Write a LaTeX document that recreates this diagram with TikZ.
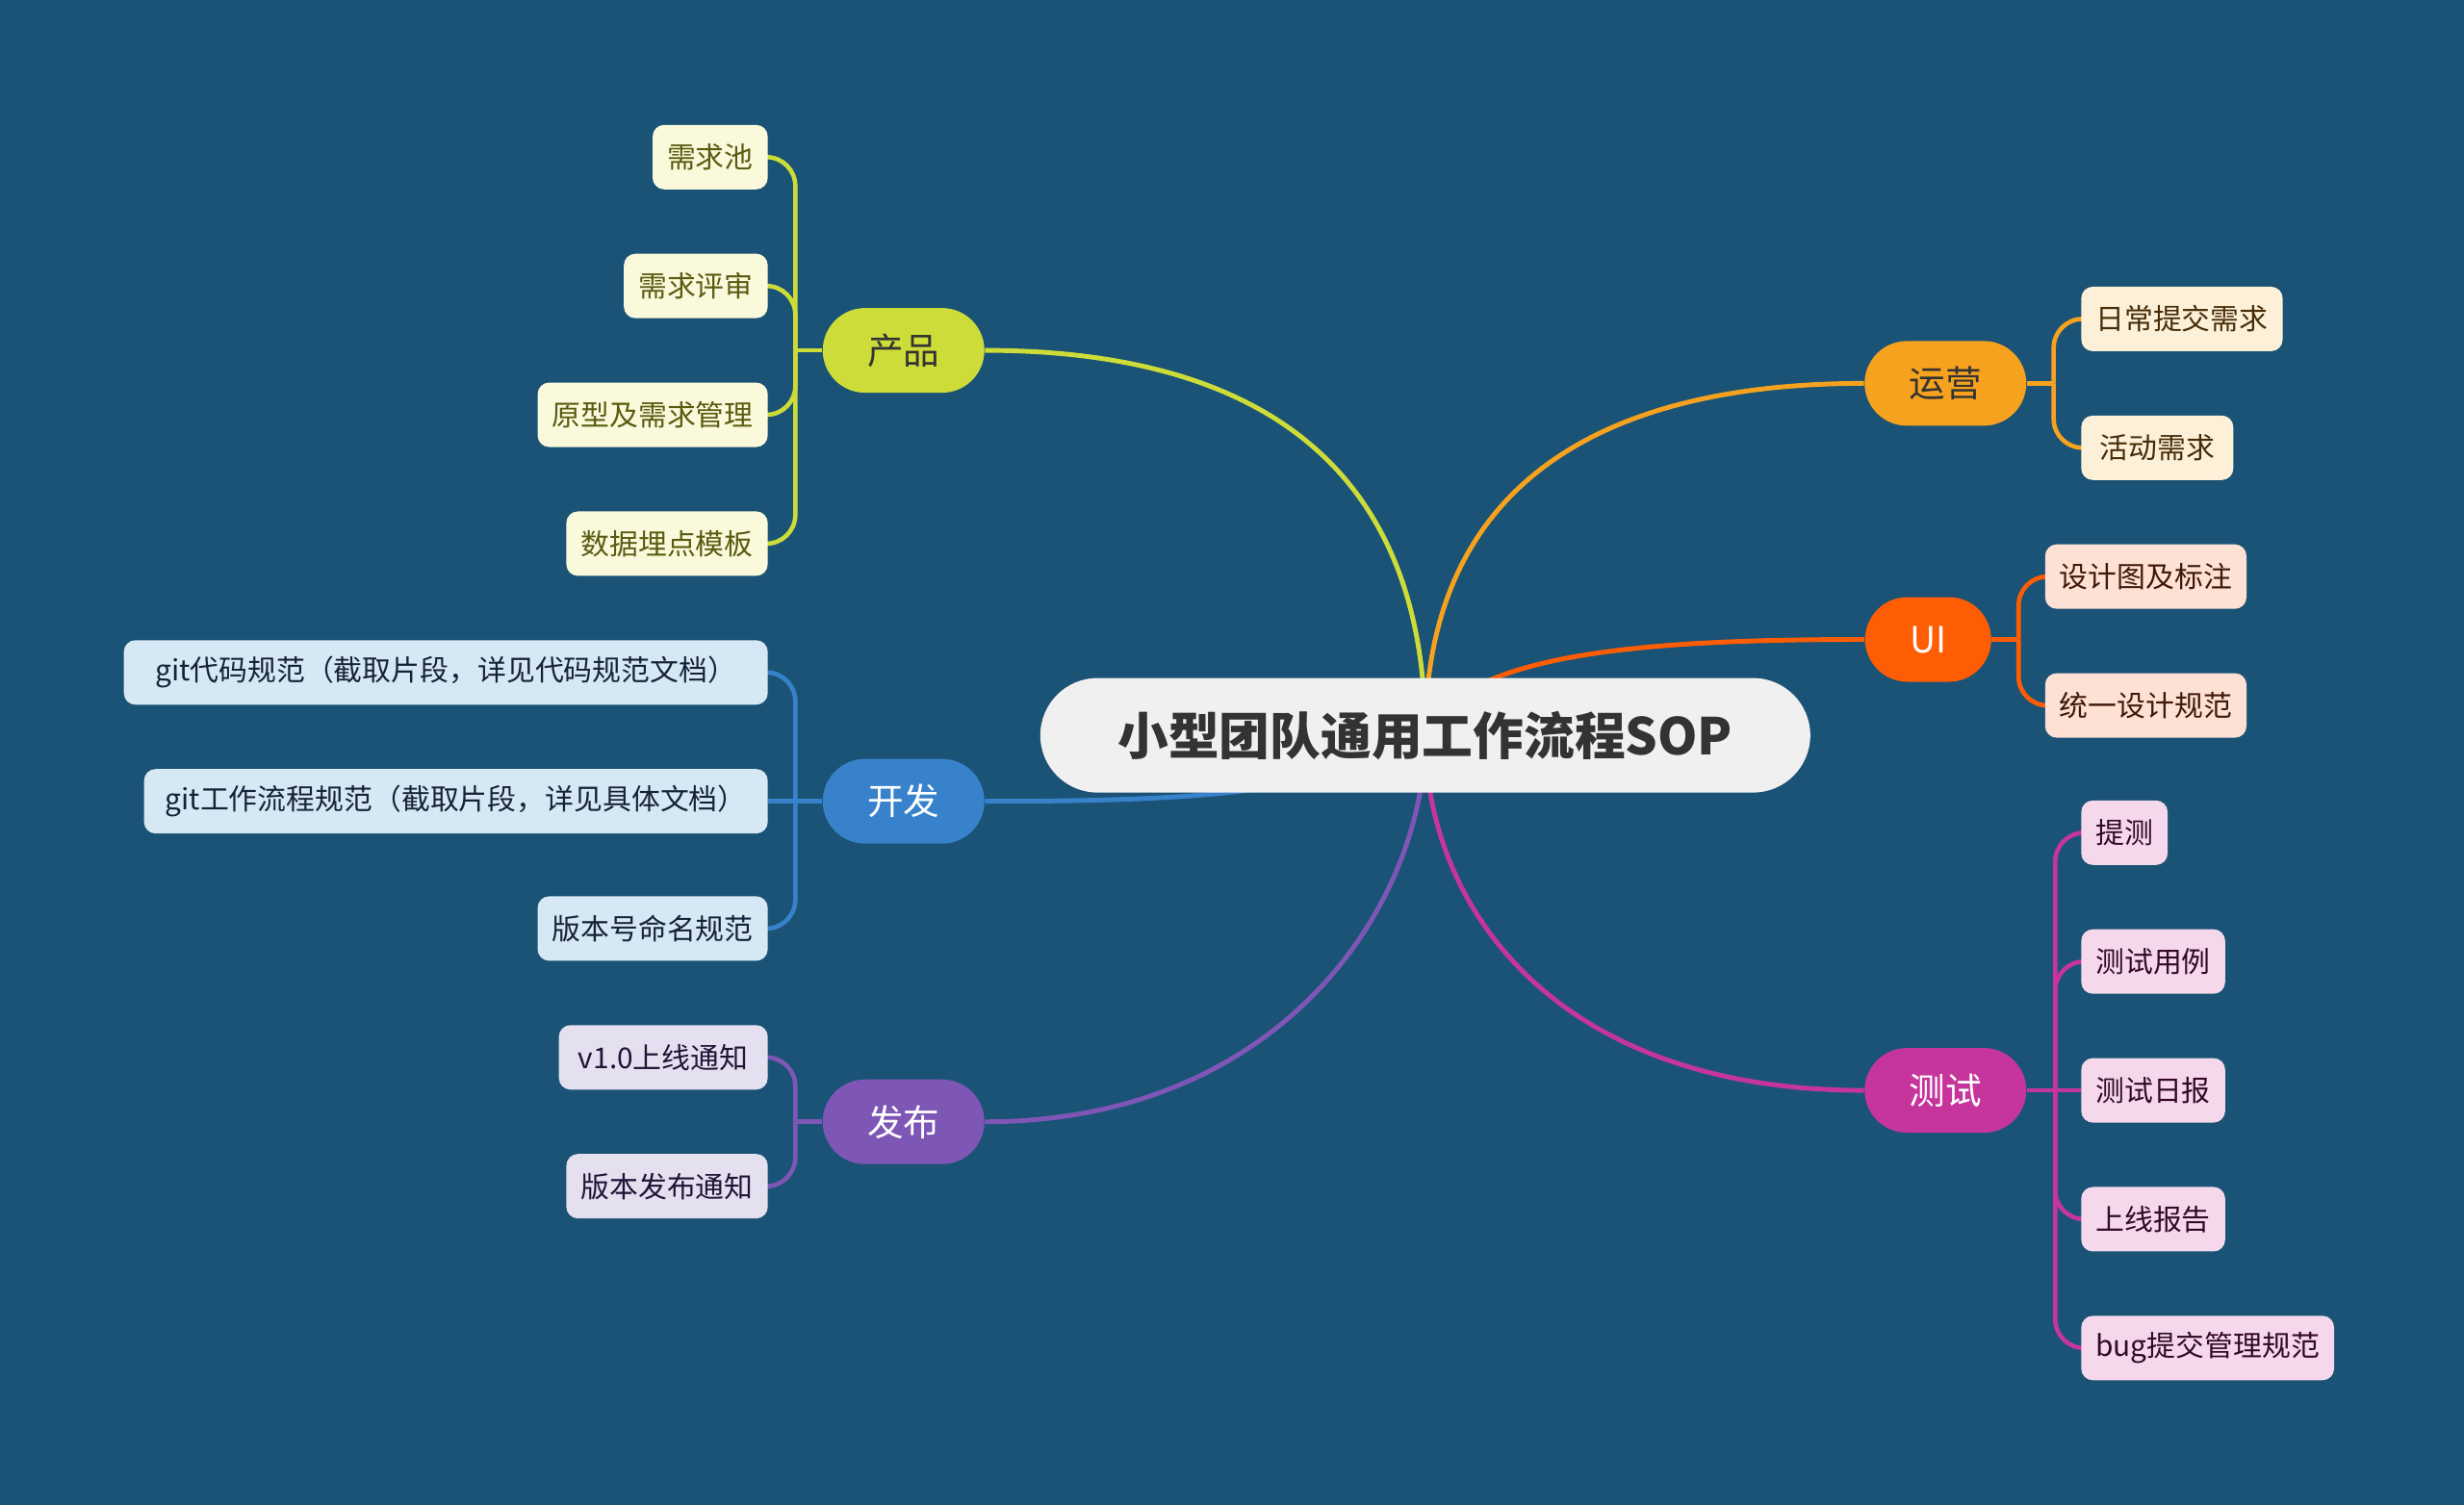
\documentclass[tikz,border=0pt]{standalone}
\usepackage{fontspec}
\setmainfont{Noto Sans CJK SC}
\usepackage{xcolor}
\usepackage{tikz}
\usetikzlibrary{positioning, backgrounds}

\definecolor{bgblue}{RGB}{26,83,117}
\definecolor{rootfill}{RGB}{240,240,240}
\definecolor{roottext}{RGB}{51,51,51}
\definecolor{cPr}{RGB}{205,220,57}
\definecolor{cKf}{RGB}{56,130,204}
\definecolor{cFb}{RGB}{126,87,182}
\definecolor{cYy}{RGB}{246,162,30}
\definecolor{cUi}{RGB}{255,93,3}
\definecolor{cCs}{RGB}{198,53,156}
\definecolor{pFill}{RGB}{250,249,220}
\definecolor{pText}{RGB}{88,92,16}
\definecolor{dFill}{RGB}{215,232,245}
\definecolor{dText}{RGB}{20,35,55}
\definecolor{fFill}{RGB}{229,224,240}
\definecolor{fText}{RGB}{35,20,55}
\definecolor{yFill}{RGB}{253,240,216}
\definecolor{yText}{RGB}{70,45,10}
\definecolor{uFill}{RGB}{252,225,212}
\definecolor{uText}{RGB}{65,25,10}
\definecolor{tFill}{RGB}{245,216,236}
\definecolor{tText}{RGB}{50,10,40}

\begin{document}
\begin{tikzpicture}[
    x=0.016327cm, y=-0.016327cm,
    root/.style  = {rectangle, fill=rootfill, text=roottext, rounded corners=0.595cm,
                    minimum width=8cm, minimum height=1.19cm,
                    font=\fontsize{15}{18}\selectfont\bfseries},
    topic/.style = {rectangle, rounded corners=0.44cm, minimum width=1.68cm,
                    minimum height=0.88cm, font=\fontsize{10.7}{13}\selectfont},
    leaf/.style  = {rectangle, rounded corners=0.12cm, minimum height=0.67cm,
                    inner xsep=0.15cm, font=\fontsize{8.5}{10}\selectfont},
    pbox/.style  = {leaf, fill=pFill, text=pText},
    dbox/.style  = {leaf, fill=dFill, text=dText},
    fbox/.style  = {leaf, fill=fFill, text=fText},
    ybox/.style  = {leaf, fill=yFill, text=yText},
    ubox/.style  = {leaf, fill=uFill, text=uText},
    tbox/.style  = {leaf, fill=tFill, text=tText},
    link/.style  = {line width=1.4pt},
    twig/.style  = {line width=1.3pt, rounded corners=0.3cm}
  ]
  % centre and main topics
  \node[root] (c) at (907,468) {小型团队通用工作流程SOP};
  \node[topic, fill=cPr, text=black!80] (pr) at (575,223) {产品};
  \node[topic, fill=cKf, text=white] (kf) at (575,510) {开发};
  \node[topic, fill=cFb, text=white] (fb) at (575,714) {发布};
  \node[topic, fill=cYy, text=black!80] (yy) at (1238,244) {运营};
  \node[topic, fill=cUi, text=white, minimum width=1.31cm] (ui) at (1227,407) {UI};
  \node[topic, fill=cCs, text=white] (cs) at (1238,694) {测试};

  % left leaves
  \node[pbox, anchor=east] (p1) at (489,100) {需求池};
  \node[pbox, anchor=east] (p2) at (489,182) {需求评审};
  \node[pbox, anchor=east] (p3) at (489,264) {原型及需求管理};
  \node[pbox, anchor=east] (p4) at (489,346) {数据埋点模板};
  \node[dbox, anchor=east, minimum width=6.69cm] (d1) at (489,428) {git代码规范（截取片段，详见代码规范文档）};
  \node[dbox, anchor=east, minimum width=6.48cm] (d2) at (489,510) {git工作流程规范（截取片段，详见具体文档）};
  \node[dbox, anchor=east] (d3) at (489,591) {版本号命名规范};
  \node[fbox, anchor=east, minimum width=2.17cm] (f1) at (489,673) {v1.0上线通知};
  \node[fbox, anchor=east] (f2) at (489,755) {版本发布通知};

  % right leaves
  \node[ybox, anchor=west] (y1) at (1324,203) {日常提交需求};
  \node[ybox, anchor=west, minimum width=1.58cm] (y2) at (1324,285) {活动需求};
  \node[ubox, anchor=west] (u1) at (1301,367) {设计图及标注};
  \node[ubox, anchor=west] (u2) at (1301,449) {统一设计规范};
  \node[tbox, anchor=west] (t1) at (1324,530) {提测};
  \node[tbox, anchor=west] (t2) at (1324,612) {测试用例};
  \node[tbox, anchor=west] (t3) at (1324,694) {测试日报};
  \node[tbox, anchor=west] (t4) at (1324,776) {上线报告};
  \node[tbox, anchor=west] (t5) at (1324,858) {bug提交管理规范};

  \path (pr.west) ++(-17,0) coordinate (prj);
  \path (kf.west) ++(-17,0) coordinate (kfj);
  \path (fb.west) ++(-17,0) coordinate (fbj);
  \path (yy.east) ++(17,0) coordinate (yyj);
  \path (ui.east) ++(17,0) coordinate (uij);
  \path (cs.east) ++(18,0) coordinate (csj);

  \begin{scope}[on background layer]
    \fill[bgblue] (0,0) rectangle (1568,958);
    % main branches
    \draw[link, cPr] (pr.east) .. controls +(175,0) and +(0,-170) .. (c.center);
    \draw[link, cKf] (kf.east) .. controls +(150,0) and +(-60,35) .. (c.center);
    \draw[link, cFb] (fb.east) .. controls +(190,0) and +(0,106) .. (c.center);
    \draw[link, cYy] (yy.west) .. controls +(-180,0) and +(0,-150) .. (c.center);
    \draw[link, cUi] (ui.west) .. controls +(-137,0) and +(23,-53) .. (c.center);
    \draw[link, cCs] (cs.west) .. controls +(-200,0) and +(0,106) .. (c.center);

    % sub branches
    \draw[twig, cPr] (pr.west) -- (prj);
    \draw[twig, cPr] (prj) |- (p1.east);
    \draw[twig, cPr] (prj) |- (p2.east);
    \draw[twig, cPr] (prj) |- (p3.east);
    \draw[twig, cPr] (prj) |- (p4.east);
    \draw[twig, cKf] (kf.west) -- (kfj);
    \draw[twig, cKf] (kfj) |- (d1.east);
    \draw[twig, cKf] (kfj) -- (d2.east);
    \draw[twig, cKf] (kfj) |- (d3.east);
    \draw[twig, cFb] (fb.west) -- (fbj);
    \draw[twig, cFb] (fbj) |- (f1.east);
    \draw[twig, cFb] (fbj) |- (f2.east);
    \draw[twig, cYy] (yy.east) -- (yyj);
    \draw[twig, cYy] (yyj) |- (y1.west);
    \draw[twig, cYy] (yyj) |- (y2.west);
    \draw[twig, cUi] (ui.east) -- (uij);
    \draw[twig, cUi] (uij) |- (u1.west);
    \draw[twig, cUi] (uij) |- (u2.west);
    \draw[twig, cCs] (cs.east) -- (csj);
    \draw[twig, cCs] (csj) |- (t1.west);
    \draw[twig, cCs] (csj) |- (t2.west);
    \draw[twig, cCs] (csj) -- (t3.west);
    \draw[twig, cCs] (csj) |- (t4.west);
    \draw[twig, cCs] (csj) |- (t5.west);
  \end{scope}
\end{tikzpicture}
\end{document}
